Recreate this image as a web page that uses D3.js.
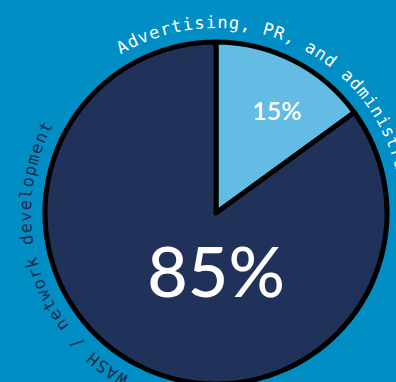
<!DOCTYPE html>
<html>
<head>
<meta charset="utf-8">
<script src="https://cdn.jsdelivr.net/npm/d3@7"></script>
<style>
  html, body { margin: 0; padding: 0; background: #008ec4; overflow: hidden; }
  svg { display: block; }
</style>
</head>
<body>
<svg id="chart" width="396" height="382"></svg>
<script>
// Budget split
const categories = ["Advertising, PR, and administration", "WASH / network development"];
const shares = [15, 85];
const sliceColors = ["#62bce3", "#21325a"];
const labelColors = ["#ffffff", "#1d2b4c"];

const W = 396, H = 382;
const cx = 216, cy = 213;
const R = 171;          // pie radius
const labelR = 185;     // baseline radius of the curved category names

const svg = d3.select("#chart");
svg.append("rect").attr("width", W).attr("height", H).attr("fill", "#008ec4");

const pie = d3.pie().sort(null).value(d => d);
const arcs = pie(shares);
const arc = d3.arc().innerRadius(0).outerRadius(R);

const g = svg.append("g").attr("transform", `translate(${cx},${cy})`);

g.selectAll("path.slice")
  .data(arcs)
  .join("path")
  .attr("class", "slice")
  .attr("d", arc)
  .attr("fill", (d, i) => sliceColors[i])
  .attr("stroke", "#000")
  .attr("stroke-width", 5)
  .attr("stroke-linejoin", "round");

// Percentage labels
const pctLabel = [
  { r: 120, da: 0.06, size: 25, weight: 600 },
  { r: 57, da: 0, size: 70, weight: 500, fixedAngle: Math.PI }
];
g.selectAll("text.pct")
  .data(arcs)
  .join("text")
  .attr("class", "pct")
  .attr("transform", (d, i) => {
    const p = pctLabel[i];
    const a = p.fixedAngle !== undefined ? p.fixedAngle : (d.startAngle + d.endAngle) / 2 + p.da;
    return `translate(${Math.sin(a) * p.r},${-Math.cos(a) * p.r})`;
  })
  .attr("text-anchor", "middle")
  .attr("dominant-baseline", "central")
  .attr("fill", "#fff")
  .attr("font-family", "Lato, 'Noto Sans', sans-serif")
  .attr("font-weight", (d, i) => pctLabel[i].weight)
  .attr("font-size", (d, i) => pctLabel[i].size)
  .text(d => d.data + "%");

// Curved category names, running clockwise just outside the rim
const deg = Math.PI / 180;
const labelStart = [-31 * deg, 208 * deg];
function arcPath(a0, r) {
  const p = d3.path();
  const a1 = a0 + 200 * deg;
  p.arc(0, 0, r, a0 - Math.PI / 2, a1 - Math.PI / 2, false);
  return p.toString();
}
const defs = svg.append("defs");
arcs.forEach((d, i) => {
  defs.append("path")
    .attr("id", "lab" + i)
    .attr("d", arcPath(labelStart[i], labelR));
});
g.selectAll("text.cat")
  .data(arcs)
  .join("text")
  .attr("class", "cat")
  .attr("fill", (d, i) => labelColors[i])
  .attr("font-family", "'DejaVu Sans Mono', monospace")
  .attr("font-size", 17)
  .attr("letter-spacing", 1)
  .append("textPath")
  .attr("href", (d, i) => "#lab" + i)
  .text((d, i) => categories[i]);
</script>
</body>
</html>
